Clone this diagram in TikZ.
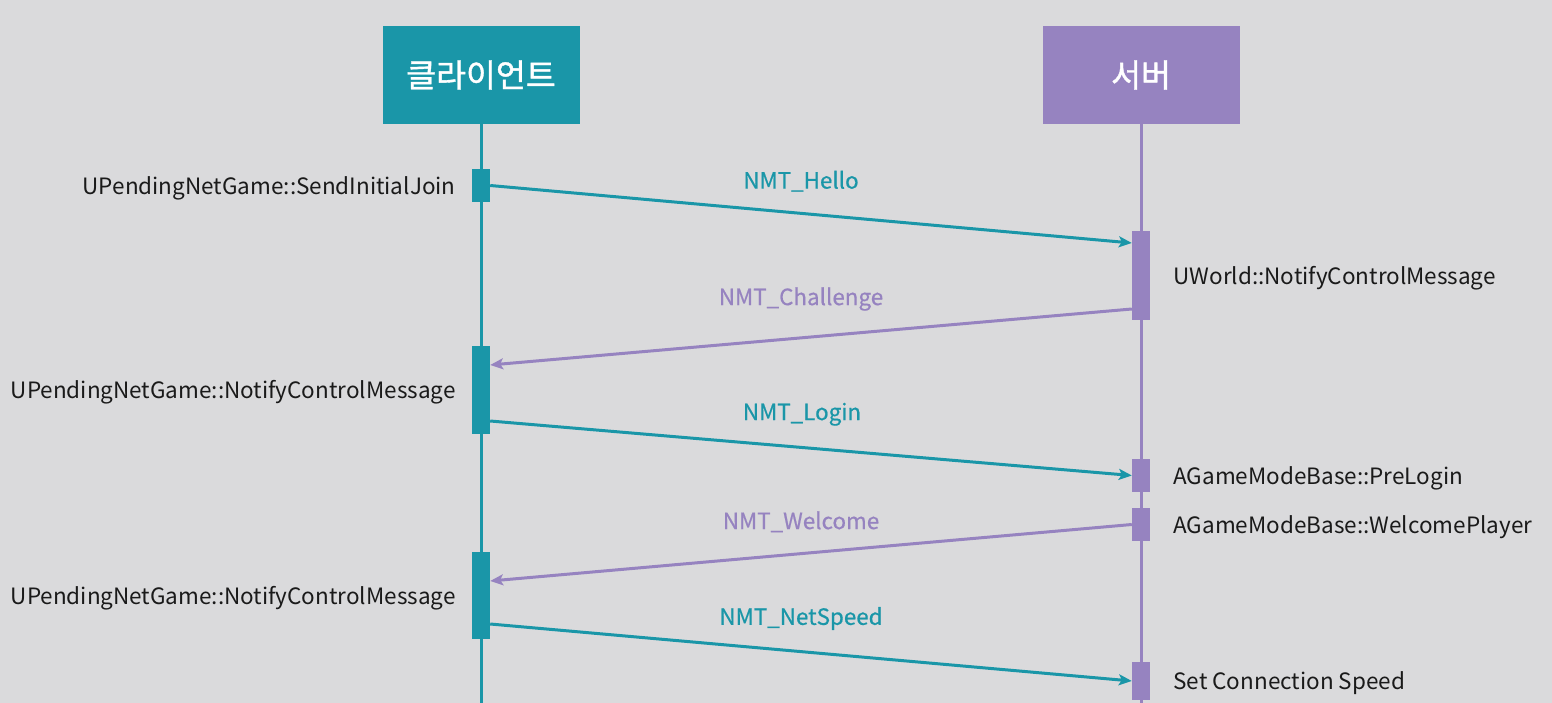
\documentclass[tikz,border=0pt]{standalone}
\usepackage{fontspec}
\setmainfont{Noto Sans CJK KR}
\newfontfamily\headfont{Noto Sans CJK KR}[FakeBold=1.2]
\newfontfamily\msgfont{Noto Sans CJK KR}[FakeBold=0.6]
\usetikzlibrary{positioning,arrows.meta,calc}
\definecolor{bg}{RGB}{218,218,220}
\definecolor{cteal}{RGB}{26,150,168}
\definecolor{spurple}{RGB}{150,131,192}
\definecolor{ink}{RGB}{26,26,26}
\tikzset{
  head/.style={minimum width=197pt, minimum height=98pt, inner sep=0pt, text=white,
               font=\headfont\fontsize{32.5}{32.5}\selectfont},
  act/.style={minimum width=18pt, inner sep=0pt},
  life/.style={line width=3pt},
  msg/.style={-{Stealth[length=13pt,width=11pt,inset=3pt]}, line width=3pt},
  fn/.style={text=ink, inner sep=0pt, yshift=-2.5pt, font=\fontsize{22.5}{22.5}\selectfont},
  mlbl/.style={inner sep=0pt, font=\msgfont\fontsize{22.4}{22.4}\selectfont},
}

\begin{document}
\begin{tikzpicture}[x=1pt, y=-1pt]
  \useasboundingbox[fill=bg] (0,0) rectangle (1552,703);

  % ---- participants -------------------------------------------------
  \node[head, fill=cteal]   (client) at (481,75)  {클라이언트};
  \node[head, fill=spurple] (server) at (1141,75) {서버};
  \coordinate (cbot) at (481,703);
  \coordinate (sbot) at (1141,703);
  \draw[life, cteal]   (client.south) -- (cbot);
  \draw[life, spurple] (server.south) -- (sbot);

  % ---- activations (client) -----------------------------------------
  \node[act, fill=cteal, minimum height=33pt] (c1) at (481,185.5) {};
  \node[act, fill=cteal, minimum height=88pt] (c2) at (481,390)   {};
  \node[act, fill=cteal, minimum height=87pt] (c3) at (481,595.5) {};

  % ---- activations (server) -----------------------------------------
  \node[act, fill=spurple, minimum height=89pt] (s1) at (1141,275.5) {};
  \node[act, fill=spurple, minimum height=33pt] (s2) at (1141,475.5) {};
  \node[act, fill=spurple, minimum height=33pt] (s3) at (1141,524.5) {};
  \node[act, fill=spurple, minimum height=38pt] (s4) at (1141,681)   {};

  % ---- function names -----------------------------------------------
  \node[fn, anchor=east, left=16pt of c1] (f1) {UPendingNetGame::SendInitialJoin};
  \node[fn, anchor=east, left=16pt of c2] (f2) {UPendingNetGame::NotifyControlMessage};
  \node[fn, anchor=east, left=16pt of c3] (f3) {UPendingNetGame::NotifyControlMessage};
  \node[fn, right=23pt of s1] (g1) {UWorld::NotifyControlMessage};
  \node[fn, right=23pt of s2] (g2) {AGameModeBase::PreLogin};
  \node[fn, right=23pt of s3] (g3) {AGameModeBase::WelcomePlayer};
  \node[fn, right=23pt of s4] (g4) {Set Connection Speed};

  % ---- messages -----------------------------------------------------
  \draw[msg, cteal] (c1.east) -- ([yshift=32.5pt]s1.west)
    node[mlbl, text=cteal, midway, xshift=-10pt, yshift=33pt] (m1) {NMT\_Hello};
  \draw[msg, spurple] ([yshift=-33.5pt]s1.west) -- ([yshift=25pt]c2.east)
    node[mlbl, text=spurple, midway, xshift=-10pt, yshift=38pt] (m2) {NMT\_Challenge};
  \draw[msg, cteal] ([yshift=-31pt]c2.east) -- (s2.west)
    node[mlbl, text=cteal, midway, xshift=-9pt, yshift=34pt] (m3) {NMT\_Login};
  \draw[msg, spurple] (s3.west) -- ([yshift=14.5pt]c3.east)
    node[mlbl, text=spurple, midway, xshift=-10pt, yshift=31pt] (m4) {NMT\_Welcome};
  \draw[msg, cteal] ([yshift=-28.5pt]c3.east) -- (s4.west)
    node[mlbl, text=cteal, midway, xshift=-10pt, yshift=34pt] (m5) {NMT\_NetSpeed};
\end{tikzpicture}
\end{document}
